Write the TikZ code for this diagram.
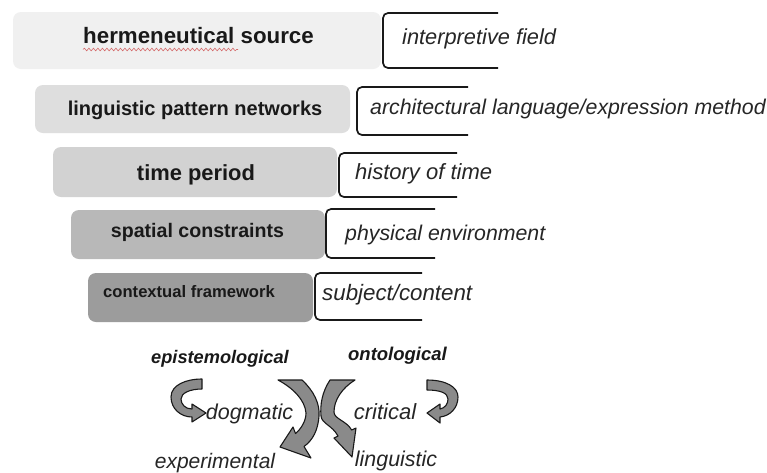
\documentclass[tikz,border=0pt]{standalone}
\usepackage{fontspec}
\setmainfont{Liberation Sans}
\usetikzlibrary{decorations.pathmorphing}
\definecolor{boxA}{HTML}{F0F0F0}
\definecolor{boxB}{HTML}{DEDEDE}
\definecolor{boxC}{HTML}{D2D2D2}
\definecolor{boxD}{HTML}{B8B8B8}
\definecolor{boxE}{HTML}{9C9C9C}
\definecolor{arrowgray}{HTML}{8A8A8A}
\definecolor{squiggle}{HTML}{D46A6A}
\newcommand{\fs}[1]{\fontsize{#1}{#1}\selectfont}
\begin{document}
\begin{tikzpicture}[x=1pt,y=-1pt,
  box/.style={rounded corners=8pt, inner sep=0pt, draw=none},
  boxlabel/.style={font=\bfseries, inner sep=0pt, anchor=base, text=black!90},
  brk/.style={draw=black!90, line width=1.7pt, rounded corners=5pt},
  itlabel/.style={font=\itshape, inner sep=0pt, anchor=base west, text=black!85},
  botlabel/.style={font=\itshape, inner sep=0pt, anchor=base, text=black!85},
  headlabel/.style={font=\bfseries\itshape, inner sep=0pt, anchor=base, text=black!90},
  curvarrow/.style={fill=arrowgray, draw=black!90, line width=1.1pt, line join=round}]
\useasboundingbox (0,0) rectangle (767,472);
\fill[white] (0,0) rectangle (767,472);

% boxes
\node[box, fill=boxA, minimum width=368pt, minimum height=57pt] (b1) at (197,40.5) {};
\node[box, fill=boxB, minimum width=315pt, minimum height=48pt] (b2) at (192.5,109) {};
\node[box, fill=boxC, minimum width=284pt, minimum height=50pt] (b3) at (195,172) {};
\node[box, fill=boxD, minimum width=254pt, minimum height=49pt] (b4) at (198,234.5) {};
\node[box, fill=boxE, minimum width=225pt, minimum height=49pt] (b5) at (200.5,297.5) {};

\node[boxlabel] (t1) at (198.5,43) {\fs{22.3}hermeneutical source};
\node[boxlabel] (t2) at (195,115) {\fs{20}linguistic pattern networks};
\node[boxlabel] (t3) at (196,180.5) {\fs{21.9}time period};
\node[boxlabel] (t4) at (197.5,237) {\fs{19.6}spatial constraints};
\node[boxlabel] (t5) at (189,297.5) {\fs{16.6}contextual framework};

\draw[squiggle, line width=0.6pt, decorate,
  decoration={snake, segment length=4.5pt, amplitude=1.3pt}] (83,49.5) -- (238,49.5);

% brackets
\draw[brk] (498,13) -- (383,13) -- (383,68) -- (498,68);
\draw[brk] (468,87) -- (357,87) -- (357,135) -- (468,135);
\draw[brk] (457,153) -- (339,153) -- (339,197) -- (457,197);
\draw[brk] (435,209) -- (326,209) -- (326,258) -- (435,258);
\draw[brk] (422,273) -- (315,273) -- (315,320) -- (422,320);

\node[itlabel] (i1) at (402,44) {\fs{21.8}interpretive field};
\node[itlabel] (i2) at (370,114) {\fs{21.3}architectural language/expression method};
\node[itlabel] (i3) at (355,179) {\fs{22}history of time};
\node[itlabel] (i4) at (345,240) {\fs{21.3}physical environment};
\node[itlabel] (i5) at (322,300) {\fs{22.3}subject/content};

% bottom labels
\node[headlabel] (ep) at (220,363) {\fs{18.2}epistemological};
\node[headlabel] (on) at (397.5,360) {\fs{18.5}ontological};
\node[botlabel] (dg) at (249.5,419) {\fs{21.5}dogmatic};
\node[botlabel] (cr) at (385,419) {\fs{22}critical};
\node[botlabel] (ex) at (215,468) {\fs{21}experimental};
\node[botlabel] (li) at (396,466) {\fs{21.4}linguistic};

% curved arrows
\path[curvarrow] (202,379) .. controls (186,379) and (171,385) .. (171,397)
  .. controls (171,409) and (181,417) .. (192,417) -- (192,422) -- (206,413)
  -- (192,404) -- (192,409) .. controls (185,409) and (181,404) .. (181,399)
  .. controls (181,393) and (190,389) .. (202,389) -- cycle;
\path[curvarrow] (278,380) -- (302,380) .. controls (314,391) and (320,404) .. (319,416)
  .. controls (318,430) and (313,440) .. (304,446.5) -- (311,458) -- (280,447)
  -- (293,427) -- (295.5,433.5) .. controls (301,429) and (306,421) .. (306,413)
  .. controls (305,400) and (293,388) .. (278,380) -- cycle;
\path[curvarrow] (355,380) -- (330,380) .. controls (322,392) and (320,405) .. (321,416)
  .. controls (322,424) and (332,425) .. (338,436) -- (334,438) -- (352,457)
  -- (356,428) -- (351.6,430) .. controls (347,421) and (334,419) .. (334,412)
  .. controls (334,400) and (342,388) .. (355,380) -- cycle;
\path[curvarrow] (427,380) .. controls (446,380) and (458,387) .. (458,397)
  .. controls (458,408) and (450,416) .. (440,417) -- (440,423) -- (427,413)
  -- (440,404) -- (440,409) .. controls (445,408) and (448,404) .. (448,399)
  .. controls (448,393) and (440,390) .. (427,390) -- cycle;
\end{tikzpicture}
\end{document}
